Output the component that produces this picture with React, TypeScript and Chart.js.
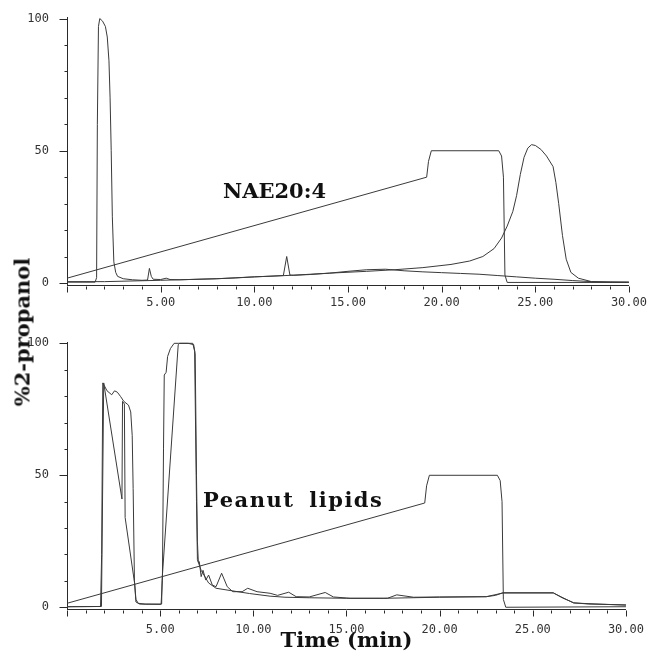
import React, { useEffect, useRef } from "react";
import { Chart, registerables } from "chart.js";
Chart.register(...registerables);

// ---- axis ticks ----
const xTickValues = [0, 5, 10, 15, 20, 25, 30];
const xTickLabels = ["", "5.00", "10.00", "15.00", "20.00", "25.00", "30.00"];
const xMinorTicks = [1, 2, 3, 4, 6, 7, 8, 9, 11, 12, 13, 14, 16, 17, 18, 19, 21, 22, 23, 24, 26, 27, 28, 29];
const yTickValues = [0, 50, 100];
const yTickLabels = ["0", "50", "100"];
const yMinorTicks = [10, 20, 30, 40, 60, 70, 80, 90];

// ---- top panel (NAE20:4) ----
const topGradT = [0, 19.2, 19.3, 19.45, 23.05, 23.2, 23.3, 23.38, 23.5, 30];
const topGradV = [1.8, 40, 46, 50, 50, 48, 40, 3, 0.2, 0.2];

const topAT = [0, 1.5, 1.58, 1.62, 1.68, 1.75, 1.9, 2.05, 2.15, 2.24, 2.3, 2.36, 2.42, 2.5, 2.6, 2.7, 3.0, 3.5, 4.0, 4.3, 4.4, 4.5, 4.6, 5.0, 5.3, 5.5, 6, 7, 8, 9, 10, 11, 11.55, 11.73, 11.9, 12.1, 13, 14, 15, 16, 17, 18, 19, 20, 21, 22, 23, 24, 25, 26, 27, 28, 29, 30];
const topAV = [0.3, 0.3, 2, 60, 97, 100, 99, 97, 93, 84, 70, 50, 25, 8, 4, 2.5, 1.6, 1.2, 1.0, 1.1, 5.5, 2.5, 1.4, 1.3, 1.8, 1.3, 1.2, 1.4, 1.6, 1.9, 2.3, 2.6, 2.8, 10, 3, 2.9, 3.2, 3.7, 4.4, 5, 5.2, 4.6, 4.2, 3.9, 3.6, 3.3, 2.8, 2.3, 1.8, 1.4, 0.9, 0.5, 0.3, 0.3];

const topBT = [0, 2, 5, 8, 10, 12, 14, 16, 17.5, 19, 20.5, 21.5, 22.2, 22.8, 23.2, 23.5, 23.8, 24.0, 24.2, 24.4, 24.6, 24.8, 25.0, 25.3, 25.6, 25.95, 26.1, 26.25, 26.45, 26.65, 26.9, 27.3, 28, 30];
const topBV = [0.5, 0.5, 1.0, 1.6, 2.3, 2.9, 3.7, 4.4, 5, 5.8, 7, 8.3, 10, 13, 17, 21.5, 27, 33, 41, 47.5, 51, 52.3, 52, 50.5, 48, 44, 38, 30, 18, 9, 4, 1.8, 0.5, 0.3];

// ---- bottom panel (Peanut lipids) ----
const botGradT = [0, 19.2, 19.3, 19.45, 23.1, 23.25, 23.35, 23.42, 23.55, 30];
const botGradV = [1.5, 39.5, 46, 50, 50, 48, 40, 3, 0, 0.2];

const botAT = [0, 1.8, 1.86, 1.92, 2.0, 2.15, 2.4, 2.55, 2.7, 2.88, 3.05, 3.3, 3.42, 3.5, 3.55, 3.62, 3.7, 3.82, 4.2, 5.05, 5.12, 5.18, 5.22, 5.32, 5.4, 5.55, 5.75, 6.0, 6.5, 6.8, 6.88, 6.95, 7.0, 7.05, 7.1, 7.2, 7.3, 7.45, 7.6, 7.8, 8.0, 8.3, 8.6, 8.9, 9.4, 9.7, 10.2, 10.9, 11.3, 11.9, 12.3, 13, 13.86, 14.3, 15.2, 17.2, 17.7, 18.6, 20, 22.5, 23.0, 23.4, 26.1, 26.6, 27.2, 28, 30];
const botAV = [0.2, 0.3, 20, 85, 84, 82, 80.5, 82, 81.5, 79.8, 78, 76.6, 74, 65, 45, 10, 3, 1.5, 1.2, 1.2, 10, 60, 88, 89, 95, 98, 100, 100, 100, 99.5, 96, 50, 25, 17, 17.3, 11.6, 14, 10.3, 12.2, 8.4, 7.8, 12.9, 7.8, 5.9, 5.9, 7.2, 5.9, 5.3, 4.5, 5.7, 4.0, 3.9, 5.6, 3.9, 3.4, 3.4, 4.7, 3.8, 3.9, 4.0, 4.5, 5.5, 5.5, 3.5, 1.7, 1.2, 0.9];

const botBT = [0, 1.85, 1.97, 2.95, 2.98, 3.08, 3.12, 3.63, 3.7, 3.9, 5.0, 5.08, 5.1, 5.97, 6.05, 6.75, 6.85, 6.95, 7.0, 7.2, 7.6, 8.0, 8.8, 9.8, 10.9, 11.7, 13, 15, 17, 20, 22.5, 23.4, 26.1, 27.2, 30];
const botBV = [0.2, 0.3, 85, 41, 78, 77, 34, 9, 2, 1.2, 1.1, 1.2, 10, 99.5, 100, 100, 97, 40, 18, 14, 9.2, 7.2, 6.3, 5.2, 4.2, 3.8, 3.6, 3.4, 3.4, 3.8, 4.0, 5.4, 5.4, 1.6, 0.8];

const LINE = "#3a3a3a";
const AXIS = "#2a2a2a";

function pts(t: number[], v: number[]) {
  return t.map((x, i) => ({ x, y: v[i] }));
}

const tickMarks = {
  id: "tickMarks",
  afterDraw(chart: any) {
    const { ctx, scales } = chart;
    const xs = scales.x;
    const ys = scales.y;
    ctx.save();
    ctx.strokeStyle = AXIS;
    ctx.lineWidth = 1;
    ctx.beginPath();
    const yb = Math.round(xs.top) + 0.5;
    xMinorTicks.forEach((v) => {
      const px = Math.round(xs.getPixelForValue(v)) + 0.5;
      ctx.moveTo(px, yb);
      ctx.lineTo(px, yb + 3);
    });
    xTickValues.forEach((v) => {
      const px = Math.round(xs.getPixelForValue(v)) + 0.5;
      ctx.moveTo(px, yb);
      ctx.lineTo(px, yb + 6);
    });
    const xl = Math.round(ys.right) + 0.5;
    yMinorTicks.forEach((v) => {
      const py = Math.round(ys.getPixelForValue(v)) + 0.5;
      ctx.moveTo(xl, py);
      ctx.lineTo(xl - 3, py);
    });
    yTickValues.forEach((v) => {
      const py = Math.round(ys.getPixelForValue(v)) + 0.5;
      ctx.moveTo(xl, py);
      ctx.lineTo(xl - 8, py);
    });
    ctx.stroke();
    ctx.restore();
  },
};

function makeConfig(datasets: any[], pad: any, xHeight: number, xPadding: number, withTitle: boolean) {
  return {
    type: "line",
    data: { datasets },
    options: {
      animation: false,
      responsive: false,
      maintainAspectRatio: false,
      plugins: { legend: { display: false }, tooltip: { enabled: false } },
      elements: { point: { radius: 0 }, line: { borderWidth: 1, tension: 0 } },
      layout: { padding: pad },
      scales: {
        x: {
          type: "linear",
          min: 0,
          max: 30,
          afterBuildTicks: (s: any) => {
            s.ticks = xTickValues.map((v) => ({ value: v }));
          },
          afterFit: (s: any) => {
            s.height = xHeight;
          },
          ticks: {
            autoSkip: false,
            maxRotation: 0,
            padding: xPadding,
            color: "#333",
            font: { family: "DejaVu Sans Mono", size: 12 },
            callback: (v: any) => xTickLabels[xTickValues.indexOf(v)],
          },
          grid: { display: false },
          border: { display: true, color: AXIS, width: 1 },
          title: withTitle
            ? {
                display: true,
                text: "Time (min)",
                color: "#111",
                font: { family: "DejaVu Serif", size: 21, weight: "bold" },
                padding: { top: 0, bottom: 1 },
              }
            : { display: false },
        },
        y: {
          type: "linear",
          min: -1,
          max: 100.5,
          afterBuildTicks: (s: any) => {
            s.ticks = yTickValues.map((v) => ({ value: v }));
          },
          afterFit: (s: any) => {
            s.width = 67;
          },
          ticks: {
            padding: 10,
            color: "#333",
            font: { family: "DejaVu Sans Mono", size: 12 },
            callback: (v: any) => yTickLabels[yTickValues.indexOf(v)],
          },
          grid: { display: false },
          border: { display: true, color: AXIS, width: 1 },
        },
      },
    },
    plugins: [tickMarks],
  };
}

function ds(t: number[], v: number[]) {
  return { data: pts(t, v), borderColor: LINE, borderWidth: 1, pointRadius: 0, fill: false };
}

export default function App() {
  const topRef = useRef<HTMLCanvasElement>(null);
  const botRef = useRef<HTMLCanvasElement>(null);

  useEffect(() => {
    const top = new Chart(
      topRef.current as HTMLCanvasElement,
      makeConfig(
        [ds(topGradT, topGradV), ds(topAT, topAV), ds(topBT, topBV)],
        { left: 0, right: 19, top: 16.7, bottom: 6.4 },
        28,
        2,
        false
      ) as any
    );
    const bot = new Chart(
      botRef.current as HTMLCanvasElement,
      makeConfig(
        [ds(botGradT, botGradV), ds(botAT, botAV), ds(botBT, botBV)],
        { left: 0, right: 23, top: 22, bottom: 0.1 },
        45,
        5,
        true
      ) as any
    );
    return () => {
      top.destroy();
      bot.destroy();
    };
  }, []);

  const label: React.CSSProperties = {
    position: "absolute",
    fontFamily: "DejaVu Serif",
    fontWeight: "bold",
    fontSize: 21,
    color: "#111",
    whiteSpace: "nowrap",
    lineHeight: 1,
  };

  return (
    <div style={{ position: "absolute", left: 0, top: 0, width: 649, height: 655, background: "#fff", overflow: "hidden" }}>
      <canvas ref={topRef} width={649} height={320} style={{ position: "absolute", left: 0, top: 0, display: "block" }} />
      <canvas ref={botRef} width={649} height={335} style={{ position: "absolute", left: 0, top: 320, display: "block" }} />
      <div style={{ ...label, left: 223, top: 180 }}>NAE20:4</div>
      <div style={{ ...label, left: 203, top: 489, letterSpacing: 1.5, wordSpacing: 6 }}>Peanut lipids</div>
      <div
        style={{
          ...label,
          left: 22,
          top: 332,
          transform: "translate(-50%, -50%) rotate(-90deg)",
        }}
      >
        %2-propanol
      </div>
    </div>
  );
}
